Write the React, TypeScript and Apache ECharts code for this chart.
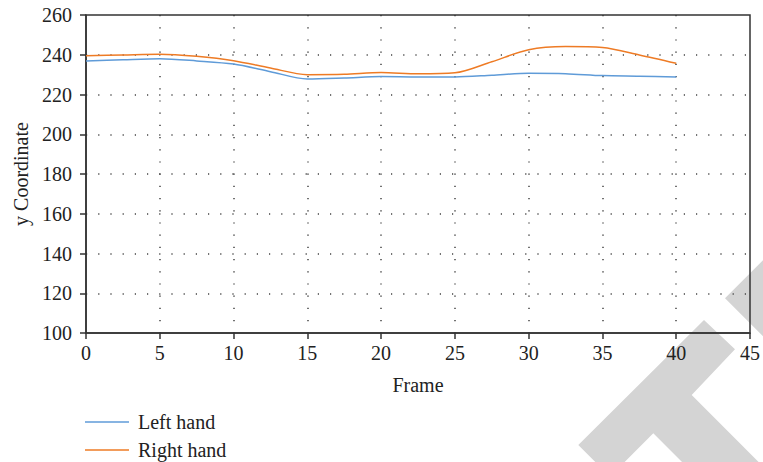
import React, { useEffect, useRef } from "react";
import * as echarts from "echarts";

const frames = [0, 2.5, 5, 7.5, 10, 12.5, 15, 17.5, 20, 22.5, 25, 27.5, 30, 32.5, 35, 37.5, 40];
const leftHand = [236.9, 237.5, 238.0, 236.9, 235.3, 231.5, 227.8, 228.3, 229.0, 228.8, 228.8, 229.7, 230.7, 230.5, 229.5, 229.2, 228.8];
const rightHand = [239.5, 239.9, 240.3, 239.2, 237.0, 233.3, 230.0, 230.2, 231.1, 230.4, 230.9, 236.5, 242.5, 244.1, 243.6, 239.9, 235.7];
const seriesNames = ["Left hand", "Right hand"];
const xTitle = "Frame";
const yTitle = "y Coordinate";

const FONT = "'Liberation Serif', 'DejaVu Serif', serif";

export default function App() {
  const ref = useRef<HTMLDivElement>(null);
  useEffect(() => {
    if (!ref.current) return;
    const chart = echarts.init(ref.current, undefined, { renderer: "svg" });
    const wm = "#d4d4d4";
    chart.setOption({
      animation: false,
      backgroundColor: "#ffffff",
      textStyle: { fontFamily: FONT },
      graphic: [
        {
          type: "polygon",
          z: -10,
          silent: true,
          shape: { points: [[725, 298.3], [766, 257.3], [766, 339.3]] },
          style: { fill: wm },
        },
        {
          type: "polygon",
          z: -10,
          silent: true,
          shape: {
            points: [
              [704, 320], [735, 349.3], [691.7, 395], [773.3, 476.7],
              [696.7, 476.7], [653.3, 433.3], [610, 476.7], [578.3, 445],
            ],
          },
          style: { fill: wm },
        },
      ],
      grid: {
        left: 86,
        top: 15,
        width: 667,
        height: 318,
        show: true,
        borderColor: "#333",
        borderWidth: 1.5,
        backgroundColor: "transparent",
        z: 3,
      },
      legend: {
        orient: "vertical",
        left: 85,
        top: 412,
        padding: 0,
        icon: "rect",
        itemWidth: 44,
        itemHeight: 1.5,
        itemGap: 8,
        textStyle: { fontFamily: FONT, fontSize: 20, color: "#222", lineHeight: 20, padding: [0, 0, 0, 4] },
        data: seriesNames,
      },
      xAxis: {
        type: "value",
        min: 0,
        max: 45,
        interval: 5,
        name: xTitle,
        nameLocation: "middle",
        nameGap: 42,
        nameTextStyle: { fontFamily: FONT, fontSize: 20, color: "#222" },
        axisLine: { show: true, lineStyle: { color: "#333", width: 1.5 } },
        axisTick: { show: true, inside: false, length: 6, lineStyle: { color: "#333", width: 1.5 } },
        axisLabel: { fontFamily: FONT, fontSize: 20, color: "#222", margin: 10 },
        splitLine: {
          show: true,
          showMinLine: false,
          showMaxLine: false,
          lineStyle: { color: "#444", width: 1.5, type: [1.2, 11] },
        },
      },
      yAxis: {
        type: "value",
        min: 100,
        max: 260,
        interval: 20,
        name: yTitle,
        nameLocation: "middle",
        nameGap: 54,
        nameTextStyle: { fontFamily: FONT, fontSize: 20, color: "#222" },
        axisLine: { show: true, lineStyle: { color: "#333", width: 1.5 } },
        axisTick: { show: true, inside: false, length: 6, lineStyle: { color: "#333", width: 1.5 } },
        axisLabel: { fontFamily: FONT, fontSize: 20, color: "#222", margin: 14 },
        splitLine: {
          show: true,
          showMinLine: false,
          showMaxLine: false,
          lineStyle: { color: "#444", width: 1.5, type: [1.2, 11] },
        },
      },
      series: [
        {
          name: seriesNames[0],
          type: "line",
          data: frames.map((f, i) => [f, leftHand[i]]),
          smooth: 0.3,
          showSymbol: false,
          symbol: "none",
          lineStyle: { color: "#5f9bd8", width: 1.5 },
          itemStyle: { color: "#5f9bd8" },
        },
        {
          name: seriesNames[1],
          type: "line",
          data: frames.map((f, i) => [f, rightHand[i]]),
          smooth: 0.3,
          showSymbol: false,
          symbol: "none",
          lineStyle: { color: "#ee7b25", width: 1.5 },
          itemStyle: { color: "#ee7b25" },
        },
      ],
    });
    return () => chart.dispose();
  }, []);
  return (
    <div
      ref={ref}
      style={{ position: "fixed", left: 0, top: 0, width: 763, height: 462 }}
    />
  );
}
